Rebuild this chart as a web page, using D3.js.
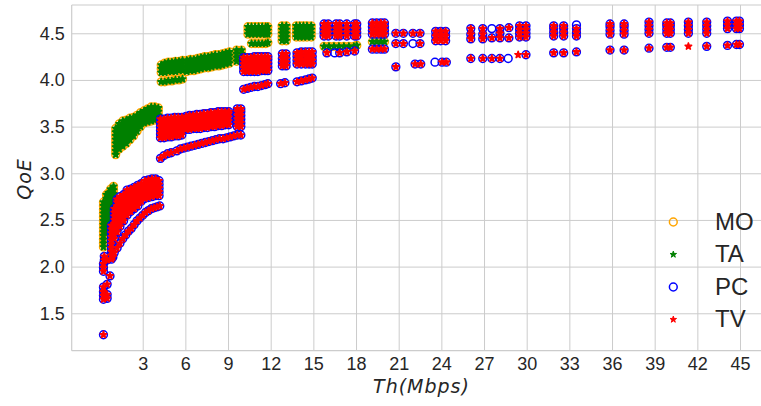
<!DOCTYPE html>
<html>
<head>
<meta charset="utf-8">
<script src="https://cdn.jsdelivr.net/npm/d3@7"></script>
<style>
  html, body { margin: 0; padding: 0; background: #ffffff; }
  svg { display: block; }
</style>
</head>
<body>
<svg id="chart" width="761" height="406"></svg>
<script>
// ---------------------------------------------------------------------------
// Data: QoE scores against throughput (Mbps).
// Each entry is [throughput, [QoE values observed at that throughput]].
// Mobile (MO) and tablet (TA) give identical scores, as do PC and TV,
// so each pair shares one table; device-specific leftovers are listed apart.
// ---------------------------------------------------------------------------
const seriesNames = ["MO", "TA", "PC", "TV"];

const mobileTabletQoE = [
  [0.24, [2.21, 2.25, 2.29, 2.33, 2.37, 2.41, 2.45, 2.49, 2.53, 2.57, 2.61, 2.65, 2.69]],
  [0.45, [2.37, 2.41, 2.45, 2.49, 2.53, 2.57, 2.61, 2.65, 2.69, 2.73, 2.77]],
  [0.60, [2.47, 2.51, 2.55, 2.59, 2.63, 2.67, 2.71, 2.75, 2.79]],
  [0.75, [2.56, 2.60, 2.64, 2.68, 2.72, 2.76, 2.80, 2.83]],
  [0.95, [2.70, 2.74, 2.78, 2.82, 2.86]],
  [1.10, [3.20, 3.24, 3.28, 3.32, 3.36, 3.40, 3.44, 3.48]],
  [1.35, [3.26, 3.30, 3.34, 3.38, 3.42, 3.46, 3.50, 3.53]],
  [1.60, [3.29, 3.33, 3.37, 3.41, 3.45, 3.49, 3.53, 3.56]],
  [1.85, [3.32, 3.36, 3.40, 3.44, 3.48, 3.52, 3.57]],
  [2.10, [3.36, 3.40, 3.44, 3.48, 3.52, 3.56, 3.59]],
  [2.35, [3.40, 3.44, 3.48, 3.52, 3.56, 3.60]],
  [2.60, [3.45, 3.49, 3.53, 3.57, 3.62]],
  [2.85, [3.50, 3.54, 3.58, 3.62, 3.65]],
  [3.10, [3.54, 3.58, 3.62, 3.67]],
  [3.35, [3.55, 3.59, 3.63, 3.67, 3.69]],
  [3.60, [3.56, 3.60, 3.64, 3.68, 3.71]],
  [3.85, [3.57, 3.61, 3.65, 3.69, 3.71]],
  [4.10, [3.58, 3.62, 3.66, 3.70]],
  [4.30, [3.98, 4.08, 4.12, 4.16]],
  [4.55, [3.98, 4.08, 4.12, 4.16, 4.18]],
  [4.80, [3.99, 4.09, 4.13, 4.17, 4.19]],
  [5.05, [3.99, 4.09, 4.13, 4.17, 4.19]],
  [5.30, [4.00, 4.09, 4.13, 4.17, 4.20]],
  [5.55, [4.00, 4.10, 4.14, 4.18, 4.20]],
  [5.80, [4.01, 4.10, 4.14, 4.18, 4.21]],
  [6.10, [4.09, 4.13, 4.17, 4.21]],
  [6.35, [4.10, 4.14, 4.18, 4.22]],
  [6.60, [4.10, 4.14, 4.18, 4.22]],
  [6.85, [4.11, 4.15, 4.19, 4.23]],
  [7.10, [4.12, 4.16, 4.20, 4.24]],
  [7.35, [4.13, 4.17, 4.21, 4.25]],
  [7.60, [4.13, 4.17, 4.21, 4.25]],
  [7.85, [4.14, 4.18, 4.22, 4.26]],
  [8.10, [4.15, 4.19, 4.23, 4.27]],
  [8.35, [4.15, 4.19, 4.23, 4.27]],
  [8.60, [4.16, 4.20, 4.24, 4.28]],
  [8.85, [4.17, 4.21, 4.25, 4.29]],
  [9.10, [4.18, 4.22, 4.26, 4.30]],
  [9.60, [4.20, 4.24, 4.28, 4.32]],
  [9.95, [4.20, 4.24, 4.28, 4.32]],
  [10.40, [4.49, 4.53, 4.57]],
  [10.65, [4.39, 4.49, 4.53, 4.57]],
  [10.90, [4.39, 4.49, 4.53, 4.57]],
  [11.15, [4.39, 4.49, 4.53, 4.57]],
  [11.40, [4.39, 4.49, 4.53, 4.57]],
  [11.65, [4.39, 4.49, 4.53, 4.57]],
  [11.80, [4.40, 4.49, 4.53, 4.57]],
  [12.80, [4.42, 4.46, 4.50, 4.54, 4.58]],
  [13.10, [4.42, 4.46, 4.50, 4.54, 4.58]],
  [13.80, [4.46, 4.50, 4.54, 4.58]],
  [14.05, [4.46, 4.50, 4.54, 4.58]],
  [14.30, [4.46, 4.50, 4.54, 4.58]],
  [14.55, [4.46, 4.50, 4.54, 4.58]],
  [14.85, [4.46, 4.50, 4.54, 4.58]],
  [15.75, [4.36]], [16.10, [4.36]], [16.45, [4.36]], [16.80, [4.36]],
  [17.15, [4.36]], [17.50, [4.36]], [17.85, [4.36]], [18.05, [4.37]],
  [19.15, [4.41]], [19.45, [4.41]], [19.75, [4.41]], [20.00, [4.41]]
];

const pcTvQoE = [
  [0.24, [1.27, 1.65, 1.69, 1.73, 1.78, 1.95, 1.99, 2.03]],
  [0.30, [2.07, 2.11]],
  [0.50, [1.66, 1.70, 1.81, 2.07]],
  [0.80, [2.08, 2.12, 2.16, 2.20, 2.24, 2.28, 2.32, 2.36, 2.40, 2.44]],
  [0.70, [1.90]],
  [0.90, [2.10]],
  [1.00, [2.15, 2.30, 2.34, 2.38, 2.42, 2.46, 2.50, 2.54, 2.58, 2.62]],
  [1.20, [2.20, 2.37, 2.41, 2.45, 2.49, 2.53, 2.57, 2.61, 2.65, 2.69, 2.72]],
  [1.40, [2.25, 2.43, 2.47, 2.51, 2.55, 2.59, 2.63, 2.67, 2.71, 2.75]],
  [1.60, [2.30]],
  [1.65, [2.49, 2.53, 2.57, 2.61, 2.65, 2.69, 2.73, 2.77]],
  [1.80, [2.34]],
  [1.90, [2.55, 2.59, 2.63, 2.67, 2.71, 2.75, 2.79, 2.82]],
  [2.00, [2.38]],
  [2.15, [2.59, 2.63, 2.67, 2.71, 2.75, 2.79, 2.83]],
  [2.20, [2.41]],
  [2.40, [2.45, 2.62, 2.66, 2.70, 2.74, 2.78, 2.82, 2.85]],
  [2.60, [2.49]],
  [2.65, [2.65, 2.69, 2.73, 2.77, 2.81, 2.85, 2.87]],
  [2.80, [2.52]],
  [2.90, [2.70, 2.74, 2.78, 2.82, 2.86, 2.89]],
  [3.00, [2.55]],
  [3.15, [2.73, 2.77, 2.81, 2.85, 2.89, 2.92]],
  [3.20, [2.58]],
  [3.40, [2.60, 2.74, 2.78, 2.82, 2.86, 2.90, 2.93]],
  [3.60, [2.62]],
  [3.65, [2.75, 2.79, 2.83, 2.87, 2.91, 2.94]],
  [3.80, [2.63]],
  [3.90, [2.76, 2.80, 2.84, 2.88, 2.92, 2.94]],
  [4.00, [2.64]],
  [4.15, [2.76, 2.80, 2.84, 2.88, 2.92]],
  [4.20, [2.65]],
  [4.25, [3.16, 3.38, 3.42, 3.46, 3.50, 3.54, 3.58]],
  [4.50, [3.19, 3.38, 3.42, 3.46, 3.50, 3.54, 3.58]],
  [4.75, [3.21, 3.39, 3.43, 3.47, 3.51, 3.55, 3.59]],
  [5.00, [3.22, 3.39, 3.43, 3.47, 3.51, 3.55, 3.59]],
  [5.25, [3.40, 3.44, 3.48, 3.52, 3.56, 3.60]],
  [5.40, [3.24]],
  [5.50, [3.40, 3.44, 3.48, 3.52, 3.56, 3.60]],
  [5.65, [3.26]],
  [5.75, [3.41, 3.45, 3.49, 3.53, 3.57, 3.60]],
  [5.90, [3.27]],
  [6.05, [3.47, 3.51, 3.55, 3.59, 3.61]],
  [6.15, [3.28]],
  [6.30, [3.47, 3.51, 3.55, 3.59, 3.62]],
  [6.40, [3.29]],
  [6.55, [3.48, 3.52, 3.56, 3.60, 3.62]],
  [6.65, [3.30]],
  [6.80, [3.48, 3.52, 3.56, 3.60, 3.63]],
  [6.90, [3.31]],
  [7.05, [3.48, 3.52, 3.56, 3.60, 3.63]],
  [7.15, [3.32]],
  [7.30, [3.49, 3.53, 3.57, 3.61, 3.64]],
  [7.40, [3.33]],
  [7.55, [3.49, 3.53, 3.57, 3.61, 3.64]],
  [7.65, [3.34]],
  [7.80, [3.50, 3.54, 3.58, 3.62, 3.65]],
  [7.90, [3.35]],
  [8.05, [3.50, 3.54, 3.58, 3.62, 3.65]],
  [8.15, [3.36]],
  [8.30, [3.51, 3.55, 3.59, 3.63, 3.66]],
  [8.40, [3.37]],
  [8.55, [3.51, 3.55, 3.59, 3.63, 3.66]],
  [8.65, [3.37]],
  [8.80, [3.52, 3.56, 3.60, 3.64, 3.66]],
  [8.90, [3.38]],
  [9.05, [3.52, 3.56, 3.60, 3.64, 3.66]],
  [9.15, [3.39]],
  [9.40, [3.40]],
  [9.65, [3.41, 3.50, 3.54, 3.58, 3.62, 3.66, 3.69]],
  [9.90, [3.41, 3.50, 3.54, 3.58, 3.62, 3.66, 3.69]],
  [10.10, [3.90, 4.09, 4.13, 4.17, 4.21, 4.24]],
  [10.35, [3.91, 4.09, 4.13, 4.17, 4.21, 4.24]],
  [10.60, [3.92, 4.09, 4.13, 4.17, 4.21, 4.24]],
  [10.85, [3.93, 4.09, 4.13, 4.17, 4.21, 4.25]],
  [11.10, [3.93, 4.09, 4.13, 4.17, 4.21, 4.25]],
  [11.35, [3.94, 4.10, 4.14, 4.18, 4.22, 4.25]],
  [11.60, [3.95, 4.10, 4.14, 4.18, 4.22, 4.25]],
  [11.80, [3.96, 4.10, 4.14, 4.18, 4.22, 4.25]],
  [12.70, [3.96]],
  [12.82, [4.15, 4.19, 4.23, 4.28]],
  [13.00, [3.97]],
  [13.08, [4.15, 4.19, 4.23, 4.28]],
  [13.85, [3.98, 4.17, 4.21, 4.25, 4.29]],
  [14.15, [3.99, 4.17, 4.21, 4.25, 4.30]],
  [14.45, [4.00, 4.17, 4.21, 4.25, 4.30]],
  [14.70, [4.01, 4.17, 4.21, 4.25, 4.30]],
  [14.92, [4.02, 4.17, 4.21, 4.25, 4.30]],
  [15.75, [4.47, 4.51, 4.55, 4.60]],
  [15.95, [4.29]],
  [16.05, [4.47, 4.51, 4.55, 4.60]],
  [16.60, [4.47, 4.51, 4.55, 4.60]],
  [16.85, [4.29, 4.47, 4.51, 4.55, 4.60]],
  [17.35, [4.30, 4.47, 4.51, 4.55, 4.60]],
  [17.90, [4.31, 4.47, 4.51, 4.55, 4.60]],
  [18.05, [4.47, 4.51, 4.55, 4.60]],
  [19.15, [4.33, 4.49, 4.53, 4.57, 4.61]],
  [19.45, [4.33, 4.49, 4.53, 4.57, 4.61]],
  [19.75, [4.33, 4.49, 4.53, 4.57, 4.61]],
  [20.00, [4.33, 4.49, 4.53, 4.57, 4.61]],
  [20.80, [4.14, 4.39, 4.50]],
  [21.33, [4.39, 4.50]],
  [22.00, [4.50]],
  [22.15, [4.17]],
  [22.50, [4.39, 4.50]],
  [22.55, [4.17]],
  [23.60, [4.42, 4.47, 4.52]],
  [23.95, [4.42, 4.47, 4.52]],
  [24.05, [4.19]],
  [24.30, [4.42, 4.47, 4.52]],
  [24.35, [4.19]],
  [26.07, [4.23, 4.44, 4.49, 4.55]],
  [26.91, [4.23, 4.44, 4.49, 4.55]],
  [27.55, [4.23, 4.45]],
  [28.12, [4.23, 4.45, 4.50, 4.55]],
  [28.75, [4.45, 4.56]],
  [29.50, [4.46, 4.50, 4.54, 4.58]],
  [29.95, [4.27, 4.46, 4.50, 4.54, 4.58]],
  [31.90, [4.29, 4.47, 4.51, 4.55, 4.58]],
  [32.60, [4.29, 4.47, 4.51, 4.55, 4.58]],
  [33.50, [4.30, 4.47, 4.51, 4.55]],
  [35.86, [4.32, 4.49, 4.53, 4.57, 4.60]],
  [36.85, [4.32, 4.49, 4.53, 4.57, 4.60]],
  [38.60, [4.34, 4.50, 4.54, 4.58, 4.62]],
  [39.85, [4.35, 4.50, 4.54, 4.58, 4.61]],
  [40.10, [4.35, 4.50, 4.54, 4.58, 4.61]],
  [41.37, [4.50, 4.54, 4.58, 4.62]],
  [42.66, [4.36, 4.50, 4.54, 4.58, 4.62]],
  [44.12, [4.37, 4.55, 4.59, 4.63]],
  [44.75, [4.38, 4.55, 4.59, 4.63]],
  [44.96, [4.38, 4.55, 4.59, 4.63]]
];

// Samples seen for a single device type only.
const pcOnlyQoE = [[16.50, 4.29], [22.00, 4.39], [23.55, 4.19], [27.55, 4.55], [28.70, 4.23], [33.50, 4.59]];
const tvOnlyQoE = [[29.40, 4.27], [41.37, 4.36]];

const xTicks = [3, 6, 9, 12, 15, 18, 21, 24, 27, 30, 33, 36, 39, 42, 45];
const yTicks = [1.5, 2.0, 2.5, 3.0, 3.5, 4.0, 4.5];

// ---------------------------------------------------------------------------
// Layout and styling
// ---------------------------------------------------------------------------
const plot = { left: 71.7, right: 771.3, top: 5, bottom: 350.7 };
const gridColor = "#cccccc";
const textColor = "#262626";
const tickFont = "'Liberation Sans', Arial, sans-serif";
const mathFont = "'DejaVu Sans', sans-serif";

const colors = { MO: "#ffa500", TA: "#008000", PC: "#0000ff", TV: "#ff0000" };
const markerKind = { MO: "circle", TA: "star", PC: "circle", TV: "star" };
const circleRadius = 3.9;
const starRadius = 3.4;

const x = d3.scaleLinear().domain([-1.993, 47.2]).range([plot.left, plot.right]);
const y = d3.scaleLinear().domain([1.099, 4.803]).range([plot.bottom, plot.top]);

const expand = cols => cols.flatMap(([th, qs]) => qs.map(q => ({ th, q })));
const asPoints = pairs => pairs.map(([th, q]) => ({ th, q }));

const seriesPoints = {
  MO: expand(mobileTabletQoE),
  TA: expand(mobileTabletQoE),
  PC: expand(pcTvQoE).concat(asPoints(pcOnlyQoE)),
  TV: expand(pcTvQoE).concat(asPoints(tvOnlyQoE))
};

const svg = d3.select("#chart");

// Grid + tick labels
const xAxis = d3.axisBottom(x)
  .tickValues(xTicks)
  .tickFormat(d3.format("d"))
  .tickSize(-(plot.bottom - plot.top))
  .tickPadding(7);

const yAxis = d3.axisLeft(y)
  .tickValues(yTicks)
  .tickFormat(d3.format(".1f"))
  .tickSize(-(plot.right - plot.left))
  .tickPadding(7);

function styleAxis(g) {
  g.select(".domain").remove();
  g.selectAll(".tick line").attr("stroke", gridColor).attr("stroke-width", 1);
  g.selectAll(".tick text")
    .attr("font-family", tickFont)
    .attr("font-size", 18)
    .attr("fill", textColor);
}

svg.append("g")
  .attr("transform", `translate(0,${plot.bottom})`)
  .call(xAxis)
  .call(styleAxis);

svg.append("g")
  .attr("transform", `translate(${plot.left},0)`)
  .call(yAxis)
  .call(styleAxis);

// Frame (spines)
const frame = svg.append("g").attr("stroke", gridColor).attr("stroke-width", 1.2).attr("fill", "none");
frame.append("line").attr("x1", plot.left).attr("x2", plot.left).attr("y1", plot.top).attr("y2", plot.bottom);
frame.append("line").attr("x1", plot.left).attr("x2", plot.right).attr("y1", plot.bottom).attr("y2", plot.bottom);
frame.append("line").attr("x1", plot.left).attr("x2", plot.right).attr("y1", plot.top).attr("y2", plot.top);
frame.append("line").attr("x1", plot.right).attr("x2", plot.right).attr("y1", plot.top).attr("y2", plot.bottom);

// Markers
const starPath = d3.symbol().type(d3.symbolStar).size(starRadius * starRadius / 0.8908130915292852)();

function drawMarker(sel, kind, color, starStroke) {
  if (kind === "circle") {
    sel.append("circle")
      .attr("r", circleRadius)
      .attr("fill", "none")
      .attr("stroke", color)
      .attr("stroke-width", 1.5);
  } else {
    sel.append("path")
      .attr("d", starPath)
      .attr("fill", color)
      .attr("stroke", color)
      .attr("stroke-width", starStroke)
      .attr("stroke-linejoin", "round");
  }
}

const pointsLayer = svg.append("g");
seriesNames.forEach(name => {
  const g = pointsLayer.append("g").attr("class", "series-" + name);
  g.selectAll("g.pt")
    .data(seriesPoints[name])
    .join("g")
    .attr("class", "pt")
    .attr("transform", d => `translate(${x(d.th)},${y(d.q)})`)
    .each(function () { drawMarker(d3.select(this), markerKind[name], colors[name], 1.6); });
});

// Legend
const legend = svg.append("g").attr("transform", "translate(673.3,222)");
seriesNames.forEach((name, i) => {
  const row = legend.append("g").attr("transform", `translate(0,${i * 32.5})`);
  drawMarker(row, markerKind[name], colors[name], 1);
  row.append("text")
    .attr("x", 41.7)
    .attr("y", 7.5)
    .attr("font-family", tickFont)
    .attr("font-size", 24)
    .attr("fill", textColor)
    .text(name);
});

// Axis titles
svg.append("text")
  .attr("x", (plot.left + plot.right) / 2)
  .attr("y", 393)
  .attr("text-anchor", "middle")
  .attr("font-family", mathFont)
  .attr("font-style", "italic")
  .attr("font-size", 19)
  .attr("letter-spacing", 1)
  .attr("fill", textColor)
  .text("Th(Mbps)");

svg.append("text")
  .attr("transform", `translate(31,179) rotate(-90)`)
  .attr("text-anchor", "middle")
  .attr("font-family", mathFont)
  .attr("font-style", "italic")
  .attr("font-size", 19)
  .attr("letter-spacing", 1)
  .attr("fill", textColor)
  .text("QoE");
</script>
</body>
</html>
